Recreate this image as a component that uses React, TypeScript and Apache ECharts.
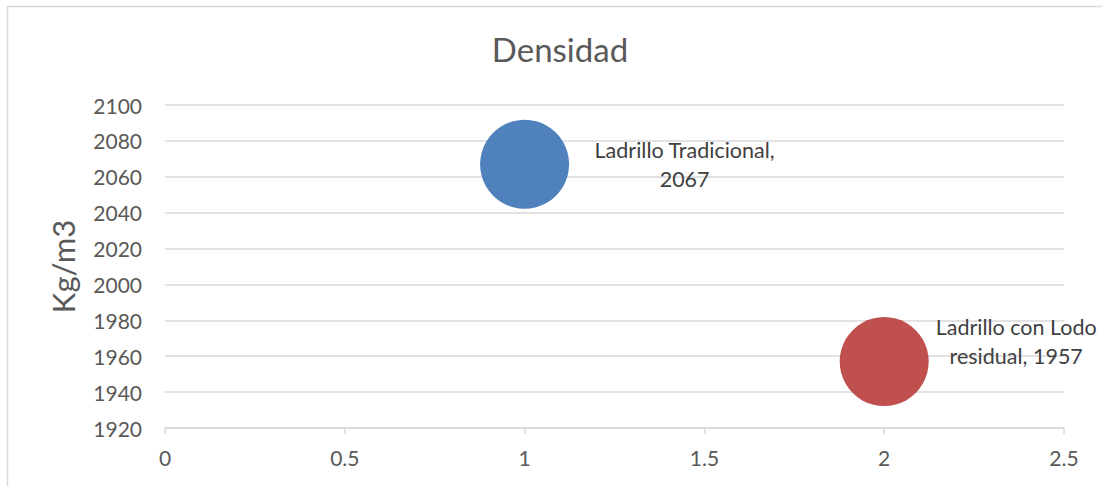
import React, { useEffect, useRef } from "react";
import * as echarts from "echarts";

const titleText = "Densidad";
const yAxisName = "Kg/m3";
const names = ["Ladrillo Tradicional", "Ladrillo con Lodo residual"];
const labelLines = [["Ladrillo Tradicional,", "2067"], ["Ladrillo con Lodo", "residual, 1957"]];
const xValues = [1, 2];
const yValues = [2067, 1957];
const colors = ["#4F81BD", "#C0504D"];
const labelOffsets = [[160, 0], [132, -20]];

const FONT = "Lato, 'Open Sans', sans-serif";

export default function App() {
  const ref = useRef<HTMLDivElement>(null);
  useEffect(() => {
    if (!ref.current) return;
    const chart = echarts.init(ref.current, undefined, { renderer: "svg" });
    chart.setOption({
      animation: false,
      backgroundColor: "#FFFFFF",
      textStyle: { fontFamily: FONT },
      title: {
        text: titleText,
        left: 555,
        top: 27,
        textAlign: "center",
        textStyle: { fontFamily: FONT, fontSize: 33, fontWeight: "normal", color: "#595959" },
      },
      graphic: [
        {
          type: "rect",
          shape: { x: 7.5, y: 6.5, width: 1200, height: 600 },
          style: { fill: "none", stroke: "#D9D9D9", lineWidth: 1.5 },
          silent: true,
        },
      ],
      grid: { left: 165, right: 38, top: 105, bottom: 58 },
      xAxis: {
        type: "value",
        min: 0,
        max: 2.5,
        interval: 0.5,
        axisLine: { show: true, lineStyle: { color: "#D9D9D9", width: 1.5 } },
        axisTick: { show: true, length: 6, lineStyle: { color: "#D9D9D9", width: 1.5 } },
        splitLine: { show: false },
        axisLabel: { fontFamily: FONT, fontSize: 21, color: "#595959", margin: 19 },
      },
      yAxis: {
        type: "value",
        min: 1920,
        max: 2100,
        interval: 20,
        name: yAxisName,
        nameLocation: "middle",
        nameGap: 87,
        nameRotate: 90,
        nameTextStyle: { fontFamily: FONT, fontSize: 31, color: "#595959" },
        axisLine: { show: false },
        axisTick: { show: false },
        splitLine: { show: true, lineStyle: { color: "#D9D9D9", width: 1.5 } },
        axisLabel: {
          fontFamily: FONT,
          fontSize: 21,
          color: "#595959",
          margin: 23,
          formatter: (v: number) => String(v),
        },
      },
      series: [
        {
          type: "scatter",
          symbolSize: 89,
          itemStyle: { opacity: 1 },
          data: names.map((n, i) => ({
            name: n,
            value: [xValues[i], yValues[i]],
            itemStyle: { color: colors[i], opacity: 1 },
            label: {
              show: true,
              position: "inside",
              align: "center",
              verticalAlign: "middle",
              offset: labelOffsets[i],
              formatter: labelLines[i].join("\n"),
              fontFamily: FONT,
              fontSize: 21.5,
              lineHeight: 29,
              color: "#404040",
            },
          })),
        },
      ],
    });
    return () => chart.dispose();
  }, []);
  return (
    <div
      ref={ref}
      style={{ position: "fixed", left: 0, top: 0, width: 1102, height: 486 }}
    />
  );
}
